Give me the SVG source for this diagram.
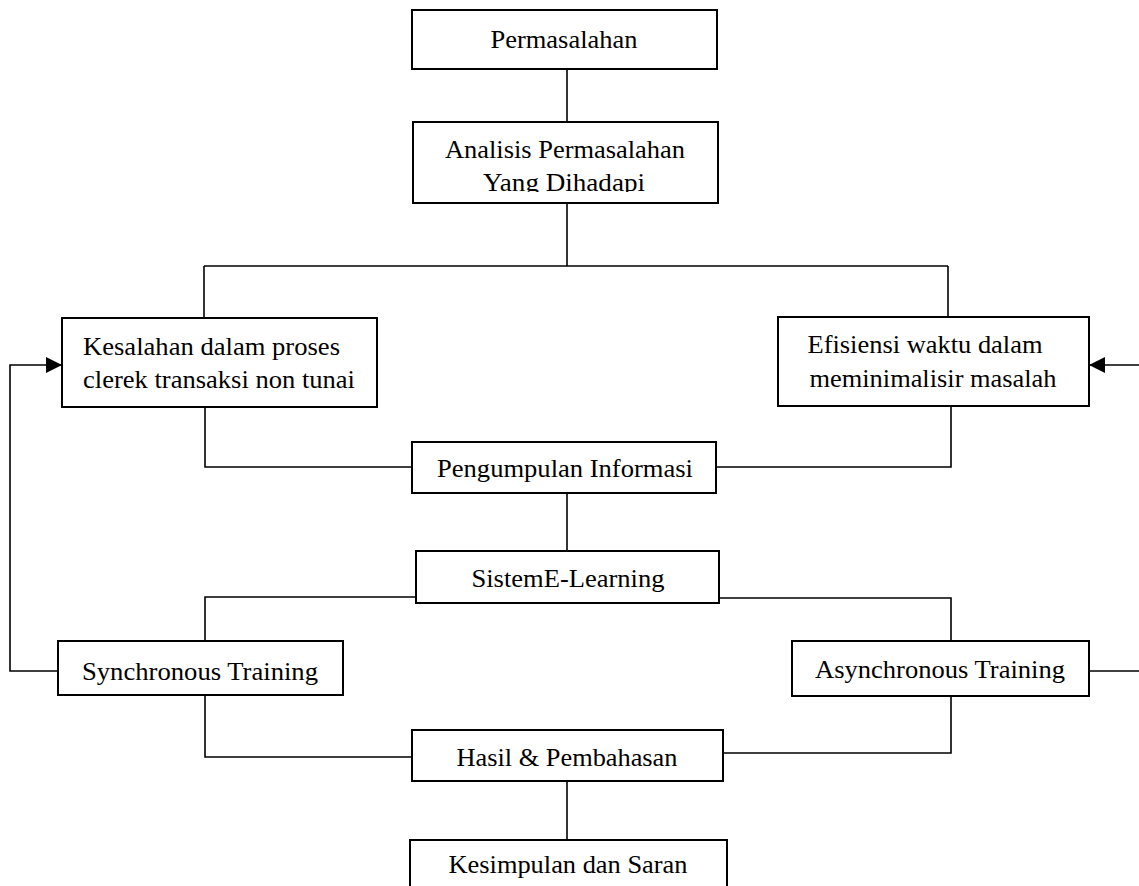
<svg xmlns="http://www.w3.org/2000/svg" width="1139" height="886" viewBox="0 0 1139 886">
<style>
.box{fill:#fff;stroke:#000;stroke-width:2}
.ln{fill:none;stroke:#000;stroke-width:1.6}
.t{font-family:"Liberation Serif","Times New Roman",serif;font-size:25px;fill:#000}
</style>
<defs>
<marker id="ah" markerWidth="16" markerHeight="16" refX="16" refY="8" orient="auto" markerUnits="userSpaceOnUse">
<path d="M0,0 L16,8 L0,16 Z" fill="#000"/>
</marker>
<clipPath id="clipA"><rect x="413" y="122" width="305" height="70"/></clipPath>
</defs>
<rect width="1139" height="886" fill="#fff"/>
<g id="connectors">
<path class="ln" d="M567,69 V122"/>
<path class="ln" d="M567,203 V266"/>
<path class="ln" d="M204,266 H948"/>
<path class="ln" d="M204,266 V318"/>
<path class="ln" d="M948,266 V317"/>
<path class="ln" d="M205,407 V467 H412"/>
<path class="ln" d="M951,406 V467 H716"/>
<path class="ln" d="M567,493 V551"/>
<path class="ln" d="M416,597 H205 V641"/>
<path class="ln" d="M719,598 H951 V641"/>
<path class="ln" d="M205,695 V757 H412"/>
<path class="ln" d="M951,696 V753 H723"/>
<path class="ln" d="M567,781 V840"/>
<path class="ln" d="M58,671 H10 V365 H62" stroke-width="2" marker-end="url(#ah)"/>
<path class="ln" d="M1139,365 H1089" stroke-width="2" marker-end="url(#ah)"/>
<path class="ln" d="M1089,671 H1139"/>
</g>
<g id="n-permasalahan">
<rect class="box" x="412" y="10" width="305" height="59"/>
<text class="t" x="564" y="48" text-anchor="middle" textLength="147" lengthAdjust="spacingAndGlyphs">Permasalahan</text>
</g>
<g id="n-analisis">
<rect class="box" x="413" y="122" width="305" height="81"/>
<g clip-path="url(#clipA)">
<text class="t" x="565" y="158" text-anchor="middle" textLength="240" lengthAdjust="spacingAndGlyphs">Analisis Permasalahan</text>
<text class="t" x="564" y="191" text-anchor="middle" textLength="162" lengthAdjust="spacingAndGlyphs">Yang Dihadapi</text>
</g>
</g>
<g id="n-kesalahan">
<rect class="box" x="62" y="318" width="315" height="89"/>
<text class="t" x="83" y="355" textLength="257" lengthAdjust="spacingAndGlyphs">Kesalahan dalam proses</text>
<text class="t" x="83" y="388" textLength="272" lengthAdjust="spacingAndGlyphs">clerek transaksi non tunai</text>
</g>
<g id="n-efisiensi">
<rect class="box" x="778" y="317" width="311" height="89"/>
<text class="t" x="925" y="353" text-anchor="middle" textLength="235" lengthAdjust="spacingAndGlyphs">Efisiensi waktu dalam</text>
<text class="t" x="933" y="387" text-anchor="middle" textLength="247" lengthAdjust="spacingAndGlyphs">meminimalisir masalah</text>
</g>
<g id="n-pengumpulan">
<rect class="box" x="412" y="442" width="304" height="51"/>
<text class="t" x="565" y="477" text-anchor="middle" textLength="256" lengthAdjust="spacingAndGlyphs">Pengumpulan Informasi</text>
</g>
<g id="n-sistem">
<rect class="box" x="416" y="551" width="303" height="52"/>
<text class="t" x="568" y="587" text-anchor="middle" textLength="193" lengthAdjust="spacingAndGlyphs">SistemE-Learning</text>
</g>
<g id="n-synchronous">
<rect class="box" x="58" y="641" width="285" height="54"/>
<text class="t" x="200" y="680" text-anchor="middle" textLength="236" lengthAdjust="spacingAndGlyphs">Synchronous Training</text>
</g>
<g id="n-asynchronous">
<rect class="box" x="792" y="641" width="297" height="55"/>
<text class="t" x="940" y="678" text-anchor="middle" textLength="250" lengthAdjust="spacingAndGlyphs">Asynchronous Training</text>
</g>
<g id="n-hasil">
<rect class="box" x="412" y="730" width="311" height="51"/>
<text class="t" x="567" y="766" text-anchor="middle" textLength="221" lengthAdjust="spacingAndGlyphs">Hasil &amp; Pembahasan</text>
</g>
<g id="n-kesimpulan">
<rect class="box" x="410" y="840" width="317" height="60"/>
<text class="t" x="568" y="873" text-anchor="middle" textLength="239" lengthAdjust="spacingAndGlyphs">Kesimpulan dan Saran</text>
</g>
</svg>
